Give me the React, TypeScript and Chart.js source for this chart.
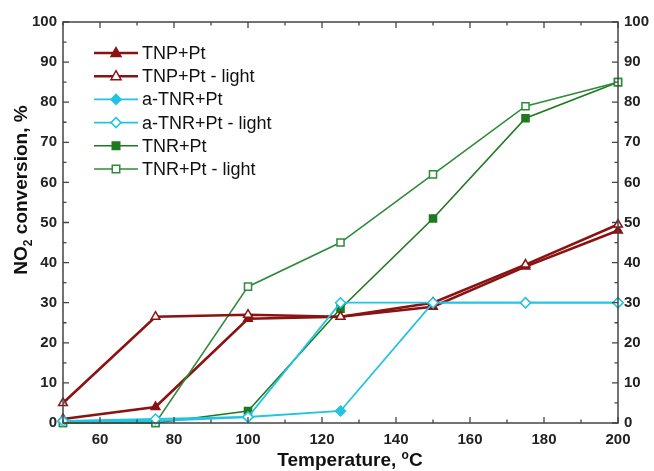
import React, { useEffect, useRef } from 'react';
import { Chart, registerables } from 'chart.js';
Chart.register(...registerables);

const temps = [50, 75, 100, 125, 150, 175, 200];
const tnpPt = [1, 4, 26, 26.5, 29, 39, 48];
const tnpPtLight = [5, 26.5, 27, 26.5, 30, 39.5, 49.5];
const aTnrPt = [0.5, 0.5, 1.5, 3, 30, 30, 30];
const aTnrPtLight = [0.5, 1, 1.5, 30, 30, 30, 30];
const tnrPt = [0, 0, 3, 28.5, 51, 76, 85];
const tnrPtLight = [0, 0, 34, 45, 62, 79, 85];
const xTicks = [60, 80, 100, 120, 140, 160, 180, 200];
const xMinor = [50, 70, 90, 110, 130, 150, 170, 190];
const yTicks = [0, 10, 20, 30, 40, 50, 60, 70, 80, 90, 100];
const yMinor = [5, 15, 25, 35, 45, 55, 65, 75, 85, 95];

const RED = '#8b1212';
const CYAN = '#22c3e3';
const GREEN = '#1e7a1e';
const GREEN_L = '#2e8b3a';

const series = [
  { label: 'TNP+Pt', data: tnpPt, color: RED, style: 'triangle', filled: true, width: 2.6, order: 4 },
  { label: 'TNP+Pt - light', data: tnpPtLight, color: RED, style: 'triangle', filled: false, width: 2.6, order: 1 },
  { label: 'a-TNR+Pt', data: aTnrPt, color: CYAN, style: 'rectRot', filled: true, width: 1.8, order: 3 },
  { label: 'a-TNR+Pt - light', data: aTnrPtLight, color: CYAN, style: 'rectRot', filled: false, width: 1.8, order: 0 },
  { label: 'TNR+Pt', data: tnrPt, color: GREEN, style: 'rect', filled: true, width: 1.6, order: 5 },
  { label: 'TNR+Pt - light', data: tnrPtLight, color: GREEN_L, style: 'rect', filled: false, width: 1.6, order: 2 },
];

const FONT = '"Liberation Sans", Arial, sans-serif';

function drawMarker(ctx: CanvasRenderingContext2D, style: string, x: number, y: number, r: number, color: string, filled: boolean) {
  ctx.save();
  ctx.beginPath();
  if (style === 'triangle') {
    ctx.moveTo(x, y - r * 1.1);
    ctx.lineTo(x + r, y + r * 0.7);
    ctx.lineTo(x - r, y + r * 0.7);
    ctx.closePath();
  } else if (style === 'rectRot') {
    ctx.moveTo(x, y - r);
    ctx.lineTo(x + r, y);
    ctx.lineTo(x, y + r);
    ctx.lineTo(x - r, y);
    ctx.closePath();
  } else {
    const s = r * 0.75;
    ctx.rect(x - s, y - s, 2 * s, 2 * s);
  }
  ctx.fillStyle = filled ? color : '#ffffff';
  ctx.fill();
  ctx.lineWidth = 1.5;
  ctx.strokeStyle = color;
  ctx.stroke();
  ctx.restore();
}

const framePlugin = {
  id: 'frameTicks',
  afterDraw(chart: any) {
    const ctx = chart.ctx as CanvasRenderingContext2D;
    const { left, right, top, bottom } = chart.chartArea;
    const xs = chart.scales.x;
    const ys = chart.scales.y;
    ctx.save();
    ctx.strokeStyle = '#444';
    ctx.lineWidth = 1.5;
    ctx.strokeRect(left, top, right - left, bottom - top);
    ctx.lineWidth = 1.3;
    ctx.beginPath();
    const tick = (arr: number[], len: number) => {
      arr.forEach((v) => {
        const px = xs.getPixelForValue(v);
        ctx.moveTo(px, bottom);
        ctx.lineTo(px, bottom - len);
        ctx.moveTo(px, top);
        ctx.lineTo(px, top + len);
      });
    };
    tick(xTicks, 6);
    tick(xMinor, 3.5);
    const ytick = (arr: number[], len: number) => {
      arr.forEach((v) => {
        const py = ys.getPixelForValue(v);
        ctx.moveTo(left, py);
        ctx.lineTo(left + len, py);
        ctx.moveTo(right, py);
        ctx.lineTo(right - len, py);
      });
    };
    ytick(yTicks, 6);
    ytick(yMinor, 3.5);
    ctx.stroke();

    // legend
    const lx0 = 94;
    const lx1 = 138;
    const ly0 = 53;
    const dy = 23.2;
    ctx.font = `18px ${FONT}`;
    ctx.textBaseline = 'middle';
    ctx.textAlign = 'left';
    series.forEach((s, i) => {
      const y = ly0 + i * dy;
      ctx.beginPath();
      ctx.strokeStyle = s.color;
      ctx.lineWidth = s.width;
      ctx.moveTo(lx0, y);
      ctx.lineTo(lx1, y);
      ctx.stroke();
      drawMarker(ctx, s.style, (lx0 + lx1) / 2, y, 5, s.color, s.filled);
      ctx.fillStyle = '#111';
      ctx.fillText(s.label, 142, y + 1);
    });

    // x title with superscript
    ctx.fillStyle = '#111';
    ctx.textBaseline = 'alphabetic';
    const big = `bold 19px ${FONT}`;
    const small = `bold 12px ${FONT}`;
    ctx.font = big;
    const p1 = 'Temperature, ';
    const w1 = ctx.measureText(p1).width;
    const wC = ctx.measureText('C').width;
    ctx.font = small;
    const wO = ctx.measureText('o').width;
    const total = w1 + wO + wC;
    let x = 350 - total / 2;
    const by = 466;
    ctx.font = big;
    ctx.fillText(p1, x, by);
    x += w1;
    ctx.font = small;
    ctx.fillText('o', x, by - 7);
    x += wO;
    ctx.font = big;
    ctx.fillText('C', x, by);

    // y title with subscript
    ctx.save();
    ctx.translate(27, 190);
    ctx.rotate(-Math.PI / 2);
    ctx.font = big;
    const q1 = 'NO';
    const q2 = ' conversion, %';
    const a1 = ctx.measureText(q1).width;
    const a2 = ctx.measureText(q2).width;
    ctx.font = small;
    const a3 = ctx.measureText('2').width;
    let tx = -(a1 + a2 + a3) / 2;
    ctx.font = big;
    ctx.fillText(q1, tx, 0);
    tx += a1;
    ctx.font = small;
    ctx.fillText('2', tx, 5);
    tx += a3;
    ctx.font = big;
    ctx.fillText(q2, tx, 0);
    ctx.restore();

    ctx.restore();
  },
};

export default function App() {
  const ref = useRef<HTMLCanvasElement>(null);
  useEffect(() => {
    document.body.style.margin = '0';
    const canvas = ref.current!;
    const chart = new Chart(canvas, {
      type: 'line',
      data: {
        datasets: series.map((s) => ({
          label: s.label,
          data: temps.map((t, i) => ({ x: t, y: s.data[i] })),
          order: s.order,
          borderColor: s.color,
          borderWidth: s.width,
          backgroundColor: s.filled ? s.color : '#ffffff',
          pointBackgroundColor: s.filled ? s.color : '#ffffff',
          pointBorderColor: s.color,
          pointBorderWidth: 1.5,
          pointStyle: s.style as any,
          pointRadius: 5,
          tension: 0,
          clip: false as any,
        })),
      },
      options: {
        animation: false,
        responsive: false,
        maintainAspectRatio: false,
        layout: { padding: { top: 22, left: 0, right: 0, bottom: 0 } },
        plugins: { legend: { display: false }, tooltip: { enabled: false } },
        scales: {
          x: {
            type: 'linear',
            min: 50,
            max: 200,
            grid: { display: false, drawTicks: false },
            border: { display: false },
            afterBuildTicks: (scale: any) => {
              scale.ticks = xTicks.map((v) => ({ value: v }));
            },
            afterFit: (scale: any) => {
              scale.height = 48;
            },
            ticks: {
              color: '#222',
              font: { family: FONT, size: 15, weight: 'bold' },
              padding: 8,
              maxRotation: 0,
              autoSkip: false,
            },
          },
          y: {
            type: 'linear',
            position: 'left',
            min: 0,
            max: 100,
            grid: { display: false, drawTicks: false },
            border: { display: false },
            afterBuildTicks: (scale: any) => {
              scale.ticks = yTicks.map((v) => ({ value: v }));
            },
            afterFit: (scale: any) => {
              scale.width = 63;
            },
            ticks: {
              color: '#222',
              font: { family: FONT, size: 15, weight: 'bold' },
              padding: 6,
            },
          },
          y2: {
            type: 'linear',
            position: 'right',
            min: 0,
            max: 100,
            grid: { display: false, drawTicks: false },
            border: { display: false },
            afterBuildTicks: (scale: any) => {
              scale.ticks = yTicks.map((v) => ({ value: v }));
            },
            afterFit: (scale: any) => {
              scale.width = 36;
            },
            ticks: {
              color: '#222',
              font: { family: FONT, size: 15, weight: 'bold' },
              padding: 6,
            },
          },
        },
      },
      plugins: [framePlugin],
    });
    return () => chart.destroy();
  }, []);
  return (
    <div style={{ width: 654, height: 471 }}>
      <canvas ref={ref} width={654} height={471} style={{ display: 'block' }} />
    </div>
  );
}
